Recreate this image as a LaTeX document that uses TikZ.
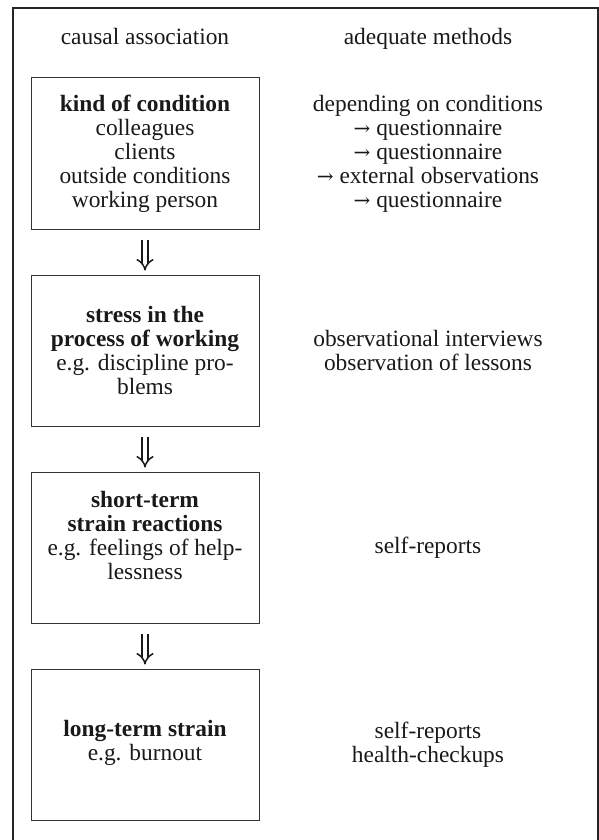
\documentclass[tikz,border=0pt]{standalone}
\usepackage{fontspec}
\setmainfont{Liberation Serif}
\newfontfamily\arrowfont{DejaVu Serif}
\newcommand{\gives}{{\arrowfont\fontsize{10}{12}\selectfont →}}
\usetikzlibrary{positioning,arrows.meta}

\begin{document}
\begin{tikzpicture}[x=0.5pt, y=-0.5pt,
	  node distance=22.5pt,
	  every node/.style = {align=center, text=black!90,
	    font=\fontsize{11.7}{12}\selectfont},
	  box/.style = {shape=rectangle, draw=black!80, line width=0.5pt,
	    minimum width=114pt, minimum height=75.5pt, inner sep=0pt},
	  head/.style = {anchor=base},
	  leadsto/.style = {double=white, draw=black!90, line width=0.75pt,
	    double distance=2.2pt, shorten <=5pt, shorten >=2pt,
	    -{Implies[length=5.5pt, width=11pt]}}]
	  \useasboundingbox (0,0) rectangle (599,840);
	  % frame, open at the bottom
	  \draw[black!85, line width=0.6pt] (13,840) |- (598,8) -- (598,840);
	  % column heads
	  \node[head] (cause) at (145,44.5) {causal association};
	  \node[head] (methods) at (428,44.5) {adequate methods};
	  % left column
	  \node[box] (kind) at (145,153.5) {\textbf{kind of condition}\\colleagues\\clients\\outside conditions\\working person};
	  \node[box, below=of kind] (stress) {\textbf{stress in the}\\\textbf{process of working}\\e.g. discipline pro-\\blems};
	  \node[box, below=of stress] (short) {\textbf{short-term}\\\textbf{strain reactions}\\e.g. feelings of help-\\lessness\\\mbox{}};
	  \node[box, below=of short] (long) {\textbf{long-term strain}\\e.g. burnout\\[-8pt]\mbox{}};
	  \draw[leadsto] (kind) -- (stress);
	  \draw[leadsto] (stress) -- (short);
	  \draw[leadsto] (short) -- (long);
	  % right column
	  \node (kindm) at (kind -| methods) {depending on conditions\\\gives{} questionnaire\\\gives{} questionnaire\\\gives{} external observations\\\gives{} questionnaire};
	  \node (stressm) at (stress -| methods) {observational interviews\\observation of lessons};
	  \node (shortm) at (short -| methods) {self-reports};
	  \node (longm) at (long -| methods) {self-reports\\health-checkups};
	\end{tikzpicture}
\end{document}
